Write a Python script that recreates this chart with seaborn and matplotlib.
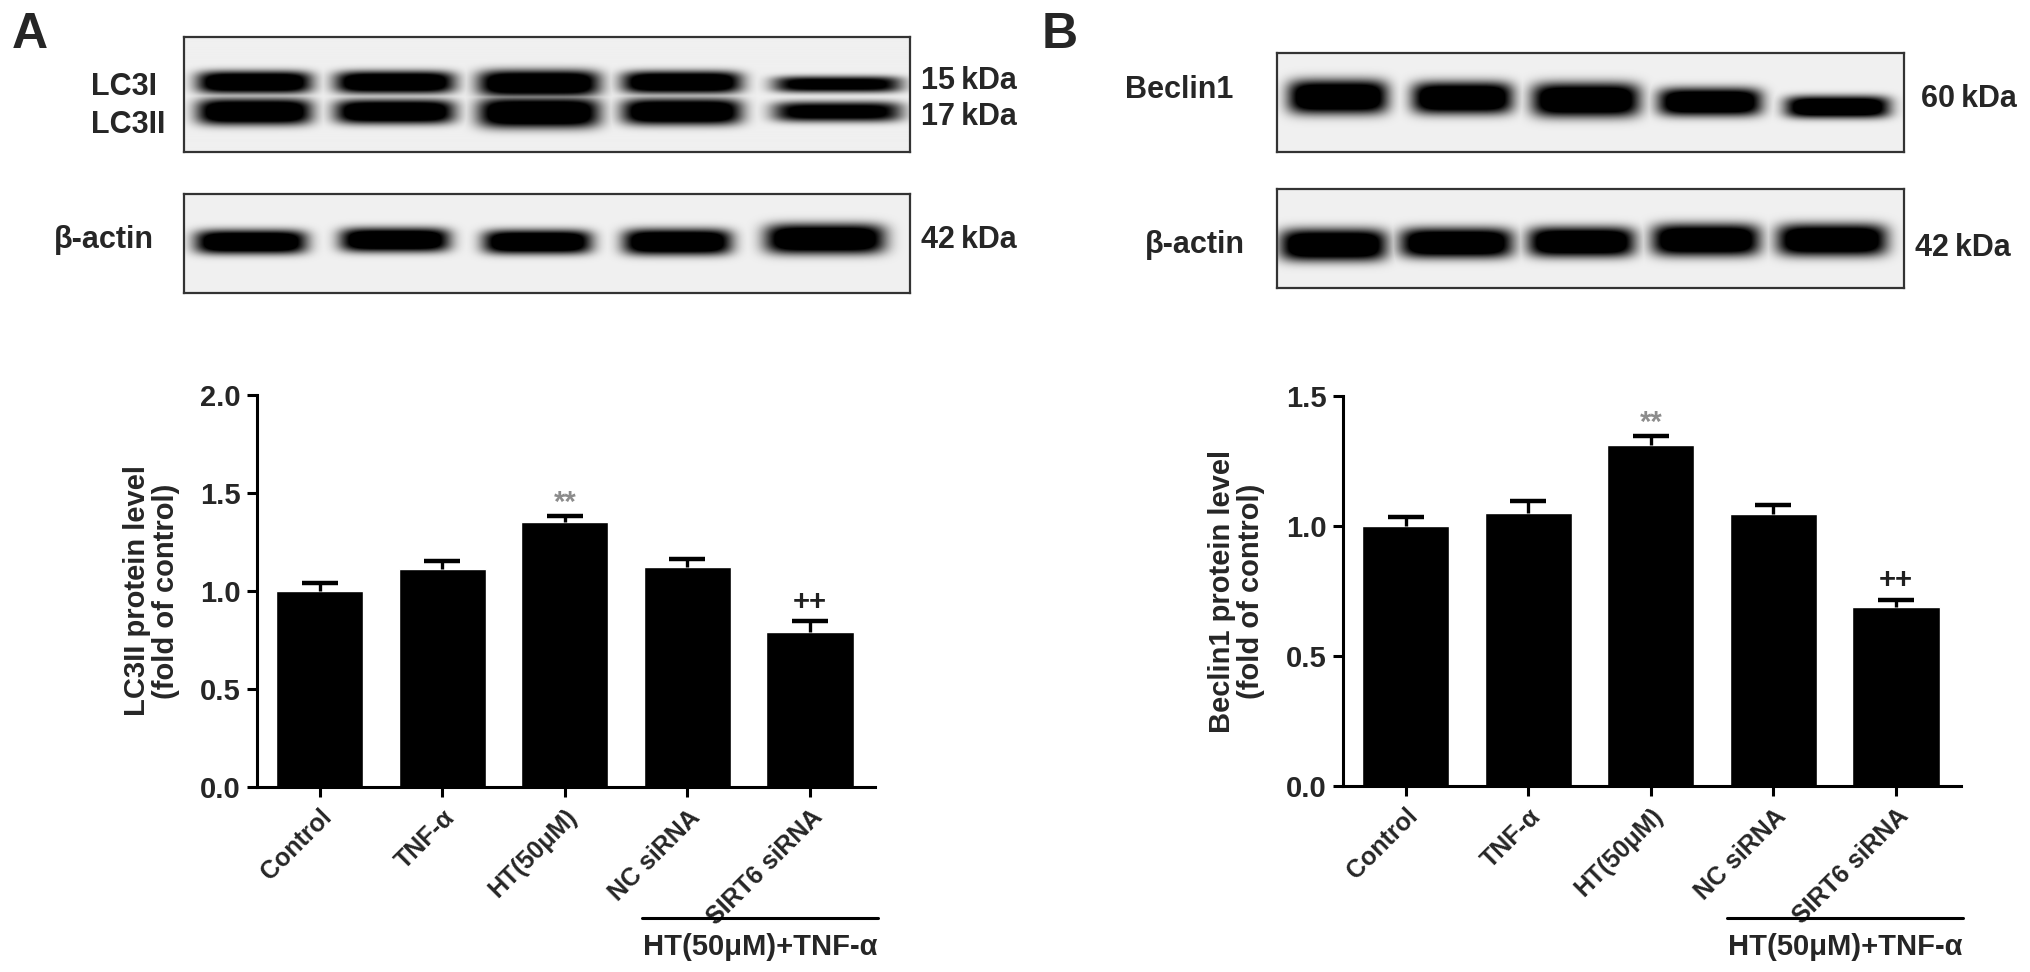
import numpy as np
import pandas as pd
import matplotlib
matplotlib.use("Agg")
import matplotlib.pyplot as plt
from matplotlib.lines import Line2D
from matplotlib.ticker import FormatStrFormatter
import seaborn as sns

# groups and measured values (fold of control)
groups = ["Control", "TNF-α", "HT(50μM)", "NC siRNA", "SIRT6 siRNA"]
lc3_mean = [1.00, 1.11, 1.35, 1.12, 0.79]
lc3_err = [0.04, 0.045, 0.035, 0.045, 0.055]
beclin_mean = [1.00, 1.05, 1.31, 1.045, 0.69]
beclin_err = [0.035, 0.048, 0.038, 0.035, 0.027]
marks = ["", "", "**", "", "++"]
mark_colors = ["black", "black", "#8c8c8c", "black", "#202020"]

# blot bands: lane x-range, band centre, half thickness, darkness
lc3_lanes = [(197, 312), (335, 455), (478, 600), (622, 742), (773, 902)]
lc3i_y = [83, 83, 84, 83, 85]
lc3i_h = [11, 11, 13, 11, 8]
lc3i_d = [1.0, 1.0, 1.0, 1.0, 0.85]
lc3ii_y = [112, 112, 113, 112, 112]
lc3ii_h = [13, 12, 15, 13, 10]
lc3ii_d = [1.0, 1.0, 1.0, 1.0, 0.85]
actA_lanes = [(195, 307), (340, 450), (483, 592), (623, 732), (765, 885)]
actA_y = [242, 240, 242, 242, 239]
actA_h = [12, 12, 12, 13, 15]
actA_d = [1.0, 1.0, 1.0, 1.0, 1.0]
bec_lanes = [(1288, 1388), (1412, 1513), (1532, 1640), (1658, 1762), (1785, 1890)]
bec_y = [97, 98, 100, 102, 107]
bec_h = [17, 16, 17, 14, 11]
bec_d = [1.0, 1.0, 1.0, 1.0, 1.0]
actB_lanes = [(1280, 1387), (1400, 1513), (1528, 1635), (1652, 1760), (1777, 1887)]
actB_y = [245, 243, 242, 240, 240]
actB_h = [16, 15, 15, 16, 16]
actB_d = [1.0, 1.0, 1.0, 1.0, 1.0]

W, H = 2031, 972


def fx(px):
    return px / W


def fy(py):
    return 1 - py / H


sns.set_style("ticks")
plt.rcParams['font.family'] = ['Liberation Sans', 'DejaVu Sans']
plt.rcParams['font.weight'] = 'bold'

fig = plt.figure(figsize=(W / 100, H / 100), dpi=100)


def blot(x0, x1, y0, y1, bands):
    ax = fig.add_axes([fx(x0), fy(y1), (x1 - x0) / W, (y1 - y0) / H])
    xs = np.arange(x0, x1) + 0.5
    ys = np.arange(y0, y1) + 0.5
    X, Y = np.meshgrid(xs, ys)
    ink = np.zeros_like(X)
    for lanes, yc, hh, dd in bands:
        for (a, b), c, h, d in zip(lanes, yc, hh, dd):
            mid, hw = (a + b) / 2, (b - a) / 2
            band = d * np.exp(-np.abs((X - mid) / hw) ** 6) * np.exp(-np.abs((Y - c) / h) ** 3)
            ink = np.maximum(ink, band)
    img = 0.94 * (1 - np.clip(ink * 1.4, 0, 1))
    ax.imshow(img, cmap="gray", vmin=0, vmax=1, extent=(x0, x1, y1, y0), aspect="auto")
    ax.set_xticks([])
    ax.set_yticks([])
    for s in ax.spines.values():
        s.set_color("#333333")
        s.set_linewidth(1.6)
    return ax


blot(184, 910, 37, 152, [(lc3_lanes, lc3i_y, lc3i_h, lc3i_d), (lc3_lanes, lc3ii_y, lc3ii_h, lc3ii_d)])
blot(184, 910, 194, 293, [(actA_lanes, actA_y, actA_h, actA_d)])
blot(1277, 1904, 53, 152, [(bec_lanes, bec_y, bec_h, bec_d)])
blot(1277, 1904, 189, 288, [(actB_lanes, actB_y, actB_h, actB_d)])

lab = dict(fontsize=22, fontweight="bold", va="baseline")
fig.text(fx(91), fy(95), "LC3I", ha="left", **lab)
fig.text(fx(91), fy(133), "LC3II", ha="left", **lab)
fig.text(fx(154), fy(248), "β-actin", ha="right", **lab)
fig.text(fx(921), fy(89), "15\u2009kDa", ha="left", **lab)
fig.text(fx(921), fy(125), "17\u2009kDa", ha="left", **lab)
fig.text(fx(921), fy(248), "42\u2009kDa", ha="left", **lab)
fig.text(fx(1233), fy(98), "Beclin1", ha="right", **lab)
fig.text(fx(1245), fy(253), "β-actin", ha="right", **lab)
fig.text(fx(1921), fy(107), "60\u2009kDa", ha="left", **lab)
fig.text(fx(1915), fy(256), "42\u2009kDa", ha="left", **lab)
fig.text(fx(12), fy(48), "A", fontsize=36, fontweight="bold", ha="left", va="baseline")
fig.text(fx(1042), fy(48), "B", fontsize=36, fontweight="bold", ha="left", va="baseline")


def bar_panel(x0, x1, y0, y1, means, errs, ylabel, ytop, label_right):
    ax = fig.add_axes([fx(x0), fy(y1), (x1 - x0) / W, (y1 - y0) / H])
    df = pd.DataFrame({"group": groups, "value": means})
    sns.barplot(data=df, x="group", y="value", color="black", saturation=1,
                width=0.71, errorbar=None, ax=ax)
    eb = ax.errorbar(range(len(means)), means, yerr=[np.zeros(len(errs)), errs],
                     fmt="none", ecolor="black", elinewidth=2.4, capsize=13, capthick=3.2)
    eb[1][0].set_visible(False)
    for i, m in enumerate(marks):
        if m:
            off = 3 if m == "**" else 8
            ax.annotate(m, xy=(i, means[i] + errs[i]), xytext=(0, off),
                        textcoords="offset points", ha="center", va="baseline",
                        fontsize=21, fontweight="bold", color=mark_colors[i])
    ax.set_xlim(-0.51, 4.53)
    ax.set_ylim(0, ytop)
    ax.set_yticks(np.arange(0, ytop + 0.01, 0.5))
    ax.yaxis.set_major_formatter(FormatStrFormatter("%.1f"))
    ax.set_xticks(range(len(groups)))
    ax.set_xticklabels(groups, rotation=45, ha="right", rotation_mode="anchor",
                       fontsize=18, fontweight="bold")
    ax.tick_params(axis="both", length=7, width=2.2, direction="out", color="black")
    ax.tick_params(axis="y", labelsize=21, pad=5)
    ax.tick_params(axis="x", pad=6)
    for t in ax.get_yticklabels():
        t.set_fontweight("bold")
    ax.set_xlabel("")
    ax.set_ylabel(ylabel, fontsize=21, fontweight="bold", linespacing=1.05)
    ax.yaxis.set_label_coords((label_right - x0) / (x1 - x0), 0.5)
    sns.despine(ax=ax)
    for s in ["left", "bottom"]:
        ax.spines[s].set_linewidth(2.2)
        ax.spines[s].set_color("black")
    return ax


bar_panel(257, 875, 395, 787, lc3_mean, lc3_err, "LC3II protein level\n(fold of control)", 2.0, 180)
bar_panel(1343, 1961, 396, 786, beclin_mean, beclin_err, "Beclin1 protein level\n(fold of control)", 1.5, 1265)

for a, b in [(642, 878), (1727, 1963)]:
    fig.add_artist(Line2D([fx(a), fx(b)], [fy(918), fy(918)], transform=fig.transFigure,
                          color="black", lw=2.2))
    fig.text(fx((a + b) / 2), fy(955), "HT(50μM)+TNF-α", ha="center", va="baseline",
             fontsize=21, fontweight="bold")

fig.savefig("out.png", dpi=100, facecolor="white")
